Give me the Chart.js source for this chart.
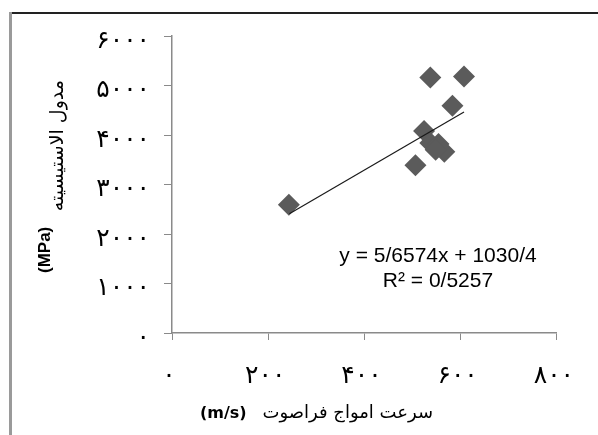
<!DOCTYPE html>
<html>
<head>
<meta charset="utf-8">
<script src="https://cdn.jsdelivr.net/npm/chart.js@4"></script>
<style>
  html, body { margin: 0; padding: 0; background: #fff; }
  #wrap { position: relative; width: 598px; height: 435px; }
</style>
</head>
<body>
<div id="wrap"><canvas id="chart" width="598" height="435"></canvas></div>
<script>
// velocity (m/s) vs modulus (MPa)
const speedValues = [243, 537, 607, 583, 524, 506, 537, 554, 566, 548];
const modulusValues = [2590, 5160, 5180, 4590, 4080, 3390, 3840, 3820, 3660, 3700];

// trendline ends, as drawn
const trendX = [244, 607];
const trendY = [2410, 4464];

const xTickLabels = ['۰', '۲۰۰', '۴۰۰', '۶۰۰', '۸۰۰'];
const yTickLabels = ['۰', '۱۰۰۰', '۲۰۰۰', '۳۰۰۰', '۴۰۰۰', '۵۰۰۰', '۶۰۰۰'];

const xTitleFa = 'سرعت امواج فراصوت';
const xTitleUnit = '(m/s)';
const yTitleFa = 'مدول الاستیسیته';
const yTitleUnit = '(MPa)';
const eqLine1 = 'y = 5/6574x + 1030/4';
const eqLine2 = 'R² = 0/5257';

const axisColor = '#8a8a8a';

const extras = {
  id: 'extras',
  beforeDraw(chart) {
    const ctx = chart.ctx;
    // frame around the picture
    ctx.save();
    ctx.fillStyle = '#222';
    ctx.fillRect(10, 12, 588, 2);
    ctx.fillStyle = '#9a9a9a';
    ctx.fillRect(9, 12, 3, 423);
    ctx.restore();
    // wider digits on the tick labels
    ctx.letterSpacing = '3px';
  },
  afterDraw(chart) {
    const ctx = chart.ctx;
    ctx.letterSpacing = '0px';
    ctx.save();
    ctx.fillStyle = '#000';
    ctx.textBaseline = 'alphabetic';

    // x title
    ctx.font = 'bold 16px "DejaVu Sans"';
    ctx.textAlign = 'left';
    ctx.fillText(xTitleUnit, 200, 418);
    ctx.font = '18px "DejaVu Sans"';
    ctx.textAlign = 'right';
    ctx.direction = 'rtl';
    ctx.fillText(xTitleFa, 433, 418);
    ctx.direction = 'ltr';

    // y title, rotated
    ctx.save();
    ctx.translate(50, 0);
    ctx.rotate(-Math.PI / 2);
    ctx.font = 'bold 17px "Liberation Sans"';
    ctx.textAlign = 'left';
    ctx.fillText(yTitleUnit, -273, 0);
    ctx.restore();
    ctx.save();
    ctx.translate(63, 0);
    ctx.rotate(-Math.PI / 2);
    ctx.font = '19px "DejaVu Sans"';
    ctx.textAlign = 'right';
    ctx.direction = 'rtl';
    ctx.fillText(yTitleFa, -80, 0);
    ctx.restore();

    // equation
    ctx.font = '21px "Liberation Sans"';
    ctx.textAlign = 'center';
    ctx.fillText(eqLine1, 438, 262);
    ctx.fillText(eqLine2, 438, 287);
    ctx.restore();
  }
};

new Chart(document.getElementById('chart'), {
  type: 'scatter',
  data: {
    datasets: [
      {
        label: 'trend',
        data: trendX.map((x, i) => ({ x: x, y: trendY[i] })),
        showLine: true,
        borderColor: '#1a1a1a',
        borderWidth: 1.2,
        pointRadius: 0,
        order: 0,
      },
      {
        label: 'points',
        data: speedValues.map((x, i) => ({ x: x, y: modulusValues[i] })),
        pointStyle: 'rectRot',
        pointRadius: 11,
        pointHoverRadius: 11,
        backgroundColor: '#5b5b5b',
        borderColor: '#5b5b5b',
        borderWidth: 0,
        order: 1,
      },
    ],
  },
  options: {
    responsive: false,
    animation: false,
    events: [],
    layout: { padding: { top: 36, right: 39, left: 0, bottom: 0 } },
    plugins: {
      legend: { display: false },
      tooltip: { enabled: false },
    },
    scales: {
      x: {
        type: 'linear',
        min: 0,
        max: 800,
        afterFit: s => { s.height = 102; },
        grid: { drawOnChartArea: false, color: axisColor, tickLength: 7 },
        border: { color: axisColor, width: 1.5 },
        ticks: {
          stepSize: 200,
          padding: 21,
          labelOffset: -3,
          color: '#000',
          font: { family: '"DejaVu Sans"', size: 25 },
          callback: (v, i) => xTickLabels[i],
        },
      },
      y: {
        type: 'linear',
        min: 0,
        max: 6000,
        afterFit: s => { s.width = 172; },
        grid: { drawOnChartArea: false, color: axisColor, tickLength: 8 },
        border: { color: axisColor, width: 1.5 },
        ticks: {
          stepSize: 1000,
          padding: 14,
          labelOffset: 5,
          color: '#000',
          font: { family: '"DejaVu Sans"', size: 25 },
          callback: (v, i) => yTickLabels[i],
        },
      },
    },
  },
  plugins: [extras],
});
</script>
</body>
</html>
